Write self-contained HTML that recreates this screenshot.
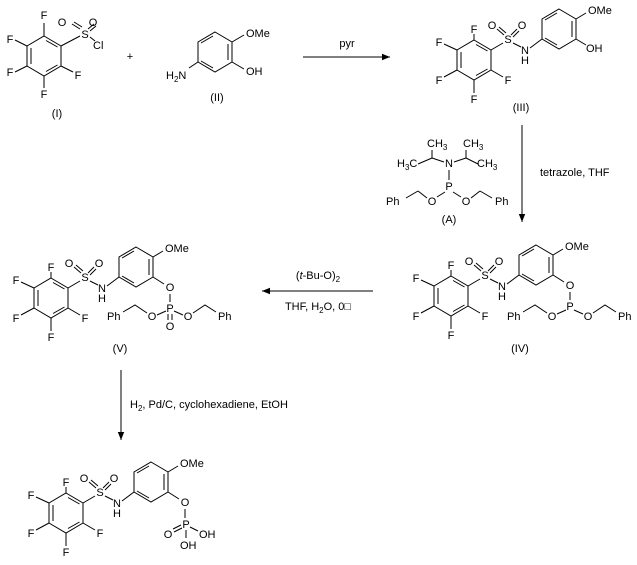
<!DOCTYPE html>
<html><head><meta charset="utf-8"><style>
body{margin:0;background:#fff}
svg{display:block}
text{font-family:"Liberation Sans",Arial,sans-serif;font-size:11px;fill:#000}
.m{text-anchor:middle}
line,polyline,polygon{stroke:#000;stroke-width:1;fill:none}
</style></head><body>
<svg width="637" height="565" viewBox="0 0 637 565" xmlns="http://www.w3.org/2000/svg">
<defs><marker id="ah" viewBox="0 0 10 10" refX="10" refY="5" markerWidth="8" markerHeight="8" orient="auto" markerUnits="userSpaceOnUse"><path d="M0,1 L10,5 L0,9 Z" fill="#000"/></marker></defs>

<!-- Compound I -->
<g transform="translate(44,56)">
<polygon points="0,-20 17,-10 17,10 0,20 -17,10 -17,-10"/>
<line x1="-13" y1="-8" x2="-13" y2="8"/><line x1="2" y1="-15.5" x2="13.5" y2="-9"/><line x1="13.5" y1="9" x2="2" y2="15.5"/>
<line x1="0" y1="-20" x2="0" y2="-33"/><text class="m" x="0" y="-37">F</text>
<line x1="-17" y1="-10" x2="-29" y2="-16"/><text class="m" x="-34" y="-13">F</text>
<line x1="-17" y1="10" x2="-29" y2="16"/><text class="m" x="-34" y="20">F</text>
<line x1="0" y1="20" x2="0" y2="32"/><text class="m" x="0" y="42">F</text>
<line x1="17" y1="10" x2="29" y2="16"/><text class="m" x="34" y="23">F</text>
<line x1="17" y1="-10" x2="36" y2="-20"/><text class="m" x="41" y="-18">S</text>
<line x1="36" y1="-27" x2="28" y2="-32"/><line x1="38" y1="-29" x2="30" y2="-34"/><text class="m" x="18" y="-30">O</text>
<line x1="44" y1="-27" x2="50" y2="-32"/><line x1="46" y1="-25" x2="52" y2="-30"/><text class="m" x="49" y="-30">O</text>
<line x1="46" y1="-19" x2="51" y2="-15"/><text x="49" y="-7">Cl</text>
</g>
<text class="m" x="57" y="117">(I)</text>
<text class="m" x="130" y="60">+</text>

<!-- Compound II -->
<polygon points="215,32 232,42 232,62 215,72 198,62 198,42"/>
<line x1="201" y1="43" x2="213" y2="36"/><line x1="228" y1="44" x2="228" y2="60"/><line x1="213" y1="68" x2="201" y2="61"/>
<line x1="232" y1="42" x2="244" y2="35"/><text x="246" y="37">OMe</text>
<line x1="232" y1="62" x2="244" y2="69"/><text x="246" y="75">OH</text>
<line x1="198" y1="62" x2="189" y2="68"/><text x="166" y="79">H<tspan font-size="8" dy="3">2</tspan><tspan dy="-3">N</tspan></text>
<text class="m" x="217" y="101">(II)</text>

<line x1="303" y1="57" x2="390" y2="57" marker-end="url(#ah)"/>
<text class="m" x="347" y="47">pyr</text>

<!-- III -->
<g transform="translate(474,60)">
<polygon points="0,-20 17,-10 17,10 0,20 -17,10 -17,-10"/>
<line x1="-13" y1="-8" x2="-13" y2="8"/><line x1="2" y1="-15.5" x2="13.5" y2="-9"/><line x1="13.5" y1="9" x2="2" y2="15.5"/>
<line x1="0" y1="-20" x2="0" y2="-26"/><text class="m" x="0" y="-27">F</text>
<line x1="-17" y1="-10" x2="-30" y2="-16"/><text class="m" x="-35" y="-14">F</text>
<line x1="-17" y1="10" x2="-30" y2="17"/><text class="m" x="-35" y="24">F</text>
<line x1="0" y1="20" x2="0" y2="33"/><text class="m" x="0" y="43">F</text>
<line x1="17" y1="10" x2="29" y2="17"/><text class="m" x="34" y="24">F</text>
<line x1="17" y1="-10" x2="29" y2="-17"/><text class="m" x="34" y="-17">S</text>
<line x1="30" y1="-25" x2="23" y2="-31"/><line x1="32" y1="-27" x2="25" y2="-33"/><text class="m" x="18" y="-31">O</text>
<line x1="37" y1="-25" x2="43" y2="-31"/><line x1="39" y1="-23" x2="45" y2="-29"/><text class="m" x="48" y="-31">O</text>
<line x1="39" y1="-17" x2="47" y2="-13"/><text class="m" x="51" y="-6">N</text><text class="m" x="51" y="4">H</text>
<line x1="56" y1="-12" x2="68" y2="-21"/>
<polygon points="85,-51 102,-41 102,-21 85,-11 68,-21 68,-41"/>
<line x1="71" y1="-40" x2="83" y2="-47"/><line x1="98" y1="-39" x2="98" y2="-23"/><line x1="83" y1="-15" x2="71" y2="-22"/>
<line x1="102" y1="-41" x2="112" y2="-47"/><text x="114" y="-46">OMe</text>
<line x1="102" y1="-21" x2="112" y2="-15"/><text x="112" y="-8">OH</text>
</g>
<text class="m" x="521" y="111">(III)</text>

<line x1="522" y1="125" x2="522" y2="222" marker-end="url(#ah)"/>
<text x="540" y="176">tetrazole, THF</text>

<!-- Reagent A -->
<text x="427" y="147">CH<tspan font-size="8" dy="3">3</tspan></text>
<text x="463" y="147">CH<tspan font-size="8" dy="3">3</tspan></text>
<text x="397" y="167">H<tspan font-size="8" dy="3">3</tspan><tspan dy="-3">C</tspan></text>
<text x="477" y="167">CH<tspan font-size="8" dy="3">3</tspan></text>
<line x1="432" y1="150" x2="432" y2="158"/><line x1="432" y1="158" x2="418" y2="164"/><line x1="432" y1="158" x2="444" y2="162"/>
<line x1="466" y1="150" x2="466" y2="158"/><line x1="466" y1="158" x2="478" y2="164"/><line x1="466" y1="158" x2="454" y2="162"/>
<text class="m" x="449" y="167">N</text>
<line x1="449" y1="170" x2="449" y2="180"/>
<text class="m" x="449" y="190">P</text>
<line x1="445" y1="192" x2="437" y2="197"/><text class="m" x="432" y="205">O</text>
<line x1="427" y1="198" x2="418" y2="191"/><line x1="418" y1="191" x2="406" y2="198"/>
<text x="386" y="205">Ph</text>
<line x1="453" y1="192" x2="461" y2="197"/><text class="m" x="466" y="205">O</text>
<line x1="471" y1="198" x2="480" y2="191"/><line x1="480" y1="191" x2="492" y2="198"/>
<text x="495" y="205">Ph</text>
<text class="m" x="449" y="223">(A)</text>

<!-- Compound IV -->
<g transform="translate(451,296)">
<polygon points="0,-20 17,-10 17,10 0,20 -17,10 -17,-10"/>
<line x1="-13" y1="-8" x2="-13" y2="8"/><line x1="2" y1="-15.5" x2="13.5" y2="-9"/><line x1="13.5" y1="9" x2="2" y2="15.5"/>
<line x1="0" y1="-20" x2="0" y2="-26"/><text class="m" x="0" y="-27">F</text>
<line x1="-17" y1="-10" x2="-30" y2="-16"/><text class="m" x="-35" y="-14">F</text>
<line x1="-17" y1="10" x2="-30" y2="17"/><text class="m" x="-35" y="24">F</text>
<line x1="0" y1="20" x2="0" y2="33"/><text class="m" x="0" y="43">F</text>
<line x1="17" y1="10" x2="29" y2="17"/><text class="m" x="34" y="24">F</text>
<line x1="17" y1="-10" x2="29" y2="-17"/><text class="m" x="34" y="-17">S</text>
<line x1="30" y1="-25" x2="23" y2="-31"/><line x1="32" y1="-27" x2="25" y2="-33"/><text class="m" x="18" y="-31">O</text>
<line x1="37" y1="-25" x2="43" y2="-31"/><line x1="39" y1="-23" x2="45" y2="-29"/><text class="m" x="48" y="-31">O</text>
<line x1="39" y1="-17" x2="47" y2="-13"/><text class="m" x="51" y="-6">N</text><text class="m" x="51" y="4">H</text>
<line x1="56" y1="-12" x2="68" y2="-21"/>
<polygon points="85,-51 102,-41 102,-21 85,-11 68,-21 68,-41"/>
<line x1="71" y1="-40" x2="83" y2="-47"/><line x1="98" y1="-39" x2="98" y2="-23"/><line x1="83" y1="-15" x2="71" y2="-22"/>
<line x1="102" y1="-41" x2="112" y2="-47"/><text x="114" y="-46">OMe</text>
<line x1="102" y1="-21" x2="113" y2="-14"/><text class="m" x="119" y="-7">O</text>
</g>
<line x1="570" y1="292" x2="570" y2="300"/><text class="m" x="570" y="310">P</text>
<line x1="566" y1="310" x2="557" y2="314"/><text class="m" x="552" y="320">O</text>
<line x1="574" y1="310" x2="583" y2="314"/><text class="m" x="588" y="320">O</text>
<polyline points="547,313 535,305 523,312"/><text x="507" y="320">Ph</text>
<polyline points="593,313 605,305 616,312"/><text x="618" y="320">Ph</text>
<text class="m" x="520" y="352">(IV)</text>

<line x1="373" y1="291" x2="262" y2="291" marker-end="url(#ah)"/>
<text class="m" x="318" y="279"><tspan>(</tspan><tspan font-style="italic">t</tspan><tspan>-Bu-O)</tspan><tspan font-size="8" dy="3">2</tspan></text>
<text class="m" x="318" y="310">THF, H<tspan font-size="8" dy="3">2</tspan><tspan dy="-3">O, 0□</tspan></text>

<!-- Compound V -->
<g transform="translate(51,298)">
<polygon points="0,-20 17,-10 17,10 0,20 -17,10 -17,-10"/>
<line x1="-13" y1="-8" x2="-13" y2="8"/><line x1="2" y1="-15.5" x2="13.5" y2="-9"/><line x1="13.5" y1="9" x2="2" y2="15.5"/>
<line x1="0" y1="-20" x2="0" y2="-26"/><text class="m" x="0" y="-27">F</text>
<line x1="-17" y1="-10" x2="-30" y2="-16"/><text class="m" x="-35" y="-14">F</text>
<line x1="-17" y1="10" x2="-30" y2="17"/><text class="m" x="-35" y="24">F</text>
<line x1="0" y1="20" x2="0" y2="33"/><text class="m" x="0" y="43">F</text>
<line x1="17" y1="10" x2="29" y2="17"/><text class="m" x="34" y="24">F</text>
<line x1="17" y1="-10" x2="29" y2="-17"/><text class="m" x="34" y="-17">S</text>
<line x1="30" y1="-25" x2="23" y2="-31"/><line x1="32" y1="-27" x2="25" y2="-33"/><text class="m" x="18" y="-31">O</text>
<line x1="37" y1="-25" x2="43" y2="-31"/><line x1="39" y1="-23" x2="45" y2="-29"/><text class="m" x="48" y="-31">O</text>
<line x1="39" y1="-17" x2="47" y2="-13"/><text class="m" x="51" y="-6">N</text><text class="m" x="51" y="4">H</text>
<line x1="56" y1="-12" x2="68" y2="-21"/>
<polygon points="85,-51 102,-41 102,-21 85,-11 68,-21 68,-41"/>
<line x1="71" y1="-40" x2="83" y2="-47"/><line x1="98" y1="-39" x2="98" y2="-23"/><line x1="83" y1="-15" x2="71" y2="-22"/>
<line x1="102" y1="-41" x2="112" y2="-47"/><text x="114" y="-46">OMe</text>
<line x1="102" y1="-21" x2="113" y2="-14"/><text class="m" x="119" y="-7">O</text>
</g>
<line x1="170" y1="294" x2="170" y2="302"/><text class="m" x="170" y="312">P</text>
<line x1="168" y1="314" x2="168" y2="320"/><line x1="172" y1="314" x2="172" y2="320"/><text class="m" x="170" y="330">O</text>
<line x1="166" y1="311" x2="157" y2="315"/><text class="m" x="152" y="320">O</text>
<line x1="174" y1="311" x2="183" y2="315"/><text class="m" x="188" y="320">O</text>
<polyline points="147,313 135,305 123,312"/><text x="107" y="320">Ph</text>
<polyline points="193,313 205,305 216,312"/><text x="218" y="320">Ph</text>
<text class="m" x="120" y="352">(V)</text>

<line x1="121" y1="370" x2="121" y2="440" marker-end="url(#ah)"/>
<text x="130" y="408">H<tspan font-size="8" dy="3">2</tspan><tspan dy="-3">, Pd/C, cyclohexadiene, EtOH</tspan></text>

<!-- Final compound -->
<g transform="translate(66,513)">
<polygon points="0,-20 17,-10 17,10 0,20 -17,10 -17,-10"/>
<line x1="-13" y1="-8" x2="-13" y2="8"/><line x1="2" y1="-15.5" x2="13.5" y2="-9"/><line x1="13.5" y1="9" x2="2" y2="15.5"/>
<line x1="0" y1="-20" x2="0" y2="-26"/><text class="m" x="0" y="-27">F</text>
<line x1="-17" y1="-10" x2="-30" y2="-16"/><text class="m" x="-35" y="-14">F</text>
<line x1="-17" y1="10" x2="-30" y2="17"/><text class="m" x="-35" y="24">F</text>
<line x1="0" y1="20" x2="0" y2="33"/><text class="m" x="0" y="43">F</text>
<line x1="17" y1="10" x2="29" y2="17"/><text class="m" x="34" y="24">F</text>
<line x1="17" y1="-10" x2="29" y2="-17"/><text class="m" x="34" y="-17">S</text>
<line x1="30" y1="-25" x2="23" y2="-31"/><line x1="32" y1="-27" x2="25" y2="-33"/><text class="m" x="18" y="-31">O</text>
<line x1="37" y1="-25" x2="43" y2="-31"/><line x1="39" y1="-23" x2="45" y2="-29"/><text class="m" x="48" y="-31">O</text>
<line x1="39" y1="-17" x2="47" y2="-13"/><text class="m" x="51" y="-6">N</text><text class="m" x="51" y="4">H</text>
<line x1="56" y1="-12" x2="68" y2="-21"/>
<polygon points="85,-51 102,-41 102,-21 85,-11 68,-21 68,-41"/>
<line x1="71" y1="-40" x2="83" y2="-47"/><line x1="98" y1="-39" x2="98" y2="-23"/><line x1="83" y1="-15" x2="71" y2="-22"/>
<line x1="102" y1="-41" x2="112" y2="-47"/><text x="114" y="-46">OMe</text>
<line x1="102" y1="-21" x2="113" y2="-14"/><text class="m" x="119" y="-7">O</text>
</g>
<line x1="185" y1="509" x2="185" y2="518"/><text class="m" x="186" y="528">P</text>
<line x1="181" y1="525" x2="173" y2="529"/><line x1="182" y1="528" x2="174" y2="532"/><text class="m" x="168" y="538">O</text>
<line x1="190" y1="527" x2="198" y2="531"/><text x="199" y="538">OH</text>
<line x1="186" y1="530" x2="186" y2="538"/><text x="180" y="549">OH</text>
</svg>
</body></html>
